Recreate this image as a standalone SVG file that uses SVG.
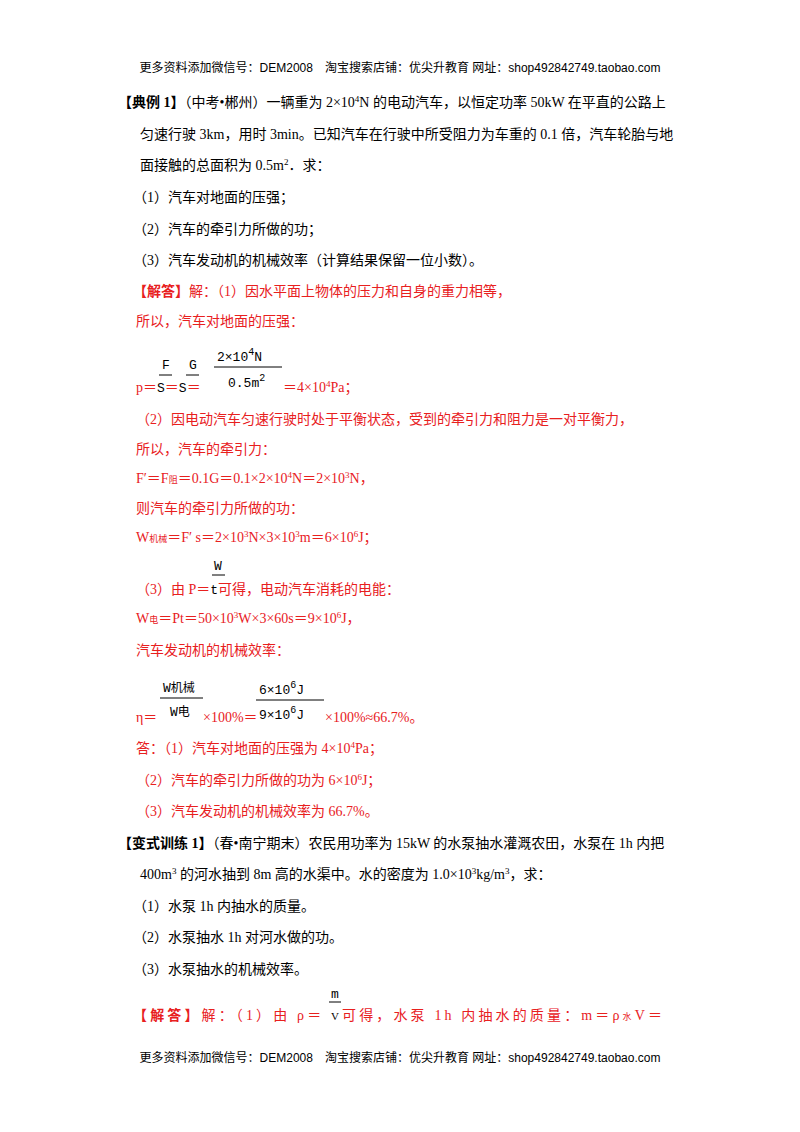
<svg xmlns="http://www.w3.org/2000/svg" width="800" height="1132" viewBox="0 0 800 1132">
<style>
text{font-family:"Liberation Serif","Noto Sans CJK SC",serif;font-size:14px;fill:#000}
.h{font-family:"Liberation Sans","Noto Sans CJK SC",sans-serif;font-size:12px}
.r{fill:#e8201e}
.b{font-weight:bold}
.m{font-family:"Liberation Mono","Noto Sans CJK SC",monospace;font-size:13px}
line{stroke:#000;stroke-width:1}
</style>
<rect width="800" height="1132" fill="#fff"/>
<text class="h" x="400" y="72" text-anchor="middle">更多资料添加微信号：DEM2008　淘宝搜索店铺：优尖升教育  网址：shop492842749.taobao.com</text>
<text x="118" y="107"><tspan class="b">【典例 1】</tspan>（中考•郴州）一辆重为 2×10<tspan dy="-5" font-size="9">4</tspan><tspan dy="5">N 的电动汽车，以恒定功率 50kW 在平直的公路上</tspan></text>
<text x="140" y="139">匀速行驶 3km，用时 3min。已知汽车在行驶中所受阻力为车重的 0.1 倍，汽车轮胎与地</text>
<text x="140" y="170">面接触的总面积为 0.5m<tspan dy="-5" font-size="9">2</tspan><tspan dy="5">．求：</tspan></text>
<text x="133" y="202">（1）汽车对地面的压强；</text>
<text x="133" y="234">（2）汽车的牵引力所做的功；</text>
<text x="133" y="265">（3）汽车发动机的机械效率（计算结果保留一位小数）。</text>
<text class="r" x="133" y="296"><tspan class="b">【解答】</tspan>解：（1）因水平面上物体的压力和自身的重力相等，</text>
<text class="r" x="136" y="326">所以，汽车对地面的压强：</text>
<g>
<text class="m" x="162" y="369">F</text><line x1="159" y1="375" x2="172" y2="375"/>
<text class="m" x="189" y="369">G</text><line x1="186" y1="375" x2="199" y2="375"/>
<text class="m" x="217" y="361">2×10<tspan dy="-6" font-size="10">4</tspan><tspan dy="6">N</tspan></text><line x1="214" y1="367" x2="282" y2="367"/>
<text class="m" x="228" y="387">0.5m<tspan dy="-6" font-size="10">2</tspan></text>
<text class="r" x="136" y="392">p＝<tspan fill="#000" font-family="Liberation Mono" font-size="13">S</tspan>＝<tspan fill="#000" font-family="Liberation Mono" font-size="13">S</tspan>＝</text>
<text class="r" x="283" y="392">＝4×10<tspan dy="-5" font-size="9">4</tspan><tspan dy="5">Pa；</tspan></text>
</g>
<text class="r" x="136" y="424">（2）因电动汽车匀速行驶时处于平衡状态，受到的牵引力和阻力是一对平衡力，</text>
<text class="r" x="136" y="454">所以，汽车的牵引力：</text>
<text class="r" x="136" y="483">F′＝F<tspan font-size="9">阻</tspan>＝0.1G＝0.1×2×10<tspan dy="-5" font-size="9">4</tspan><tspan dy="5">N＝2×10</tspan><tspan dy="-5" font-size="9">3</tspan><tspan dy="5">N，</tspan></text>
<text class="r" x="136" y="513">则汽车的牵引力所做的功：</text>
<text class="r" x="136" y="542">W<tspan font-size="9">机械</tspan>＝F′ s＝2×10<tspan dy="-5" font-size="9">3</tspan><tspan dy="5">N×3×10</tspan><tspan dy="-5" font-size="9">3</tspan><tspan dy="5">m＝6×10</tspan><tspan dy="-5" font-size="9">6</tspan><tspan dy="5">J；</tspan></text>
<text class="m" x="214" y="570" font-size="11">W</text><line x1="212" y1="575" x2="225" y2="575"/>
<text class="r" x="136" y="594">（3）由 P＝<tspan fill="#000" font-family="Liberation Mono" font-size="13">t</tspan>可得，电动汽车消耗的电能：</text>
<text class="r" x="136" y="623">W<tspan font-size="9">电</tspan>＝Pt＝50×10<tspan dy="-5" font-size="9">3</tspan><tspan dy="5">W×3×60s＝9×10</tspan><tspan dy="-5" font-size="9">6</tspan><tspan dy="5">J，</tspan></text>
<text class="r" x="136" y="655">汽车发动机的机械效率：</text>
<g>
<text class="m" x="163" y="692" font-size="11">W<tspan font-size="12">机械</tspan></text><line x1="160" y1="698" x2="203" y2="698"/>
<text class="m" x="170" y="716" font-size="11">W<tspan font-size="12">电</tspan></text>
<text class="m" x="259" y="694">6×10<tspan dy="-6" font-size="10">6</tspan><tspan dy="6">J</tspan></text><line x1="256" y1="700" x2="324" y2="700"/>
<text class="m" x="259" y="719">9×10<tspan dy="-6" font-size="10">6</tspan><tspan dy="6">J</tspan></text>
<text class="r" x="136" y="722">η＝</text>
<text class="r" x="203" y="722">×100%＝</text>
<text class="r" x="325" y="722">×100%≈66.7%。</text>
</g>
<text class="r" x="136" y="753">答：（1）汽车对地面的压强为 4×10<tspan dy="-5" font-size="9">4</tspan><tspan dy="5">Pa；</tspan></text>
<text class="r" x="136" y="785">（2）汽车的牵引力所做的功为 6×10<tspan dy="-5" font-size="9">6</tspan><tspan dy="5">J；</tspan></text>
<text class="r" x="136" y="816">（3）汽车发动机的机械效率为 66.7%。</text>
<text x="118" y="848"><tspan class="b">【变式训练 1】</tspan>（春•南宁期末）农民用功率为 15kW 的水泵抽水灌溉农田，水泵在 1h 内把</text>
<text x="140" y="879">400m<tspan dy="-5" font-size="9">3</tspan><tspan dy="5"> 的河水抽到 8m 高的水渠中。水的密度为 1.0×10</tspan><tspan dy="-5" font-size="9">3</tspan><tspan dy="5">kg/m</tspan><tspan dy="-5" font-size="9">3</tspan><tspan dy="5">，求：</tspan></text>
<text x="133" y="911">（1）水泵 1h 内抽水的质量。</text>
<text x="133" y="942">（2）水泵抽水 1h 对河水做的功。</text>
<text x="133" y="974">（3）水泵抽水的机械效率。</text>
<text class="m" x="331" y="998" font-size="11">m</text><line x1="329" y1="1002" x2="341" y2="1002"/>
<text class="r" x="133" y="1020" textLength="529" lengthAdjust="spacing"><tspan class="b">【解答】</tspan>解：（1）由 ρ＝ <tspan fill="#000" font-size="11">V</tspan>可得，水泵 1h 内抽水的质量：m＝ρ<tspan font-size="9">水</tspan>V＝</text>
<text class="h" x="400" y="1062" text-anchor="middle">更多资料添加微信号：DEM2008　淘宝搜索店铺：优尖升教育  网址：shop492842749.taobao.com</text>
</svg>
